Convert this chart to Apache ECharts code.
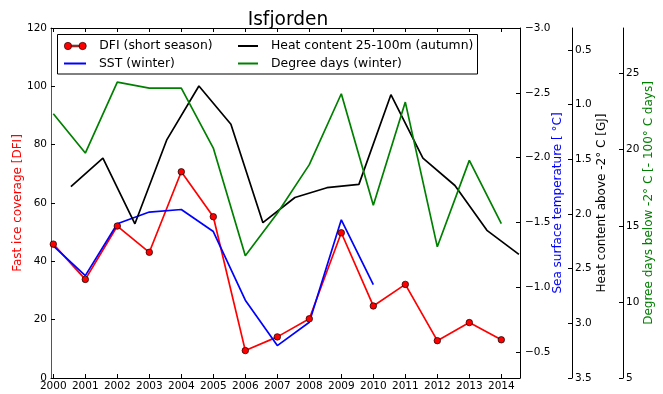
<!DOCTYPE html>
<html><head><meta charset="utf-8">
<script src="https://cdn.jsdelivr.net/npm/echarts@6/dist/echarts.min.js"></script>
<style>html,body{margin:0;padding:0;background:#fff}#c{width:663px;height:394px}</style>
</head><body><div id="c"></div>
<script>
// ---- data ----
const years = [2000,2001,2002,2003,2004,2005,2006,2007,2008,2009,2010,2011,2012,2013,2014];
const dfi = [45.9,33.8,52.1,43.1,70.7,55.3,9.4,14.1,20.3,49.8,24.7,32.1,12.8,19.0,13.1];
const sstYears = [2000,2001,2002,2003,2004,2005,2006,2007,2008,2009,2010];
const sst = [-1.32,-1.09,-1.49,-1.58,-1.60,-1.43,-0.90,-0.55,-0.73,-1.52,-1.02];
const heatYears = [2000.55,2001.55,2002.55,2003.55,2004.55,2005.55,2006.55,2007.55,2008.55,2009.55,2010.55,2011.55,2012.55,2013.55,2014.55];
const heat = [1.75,1.49,2.09,1.32,0.83,1.18,2.08,1.85,1.76,1.73,0.91,1.49,1.74,2.15,2.37];
const degYears = years;
const degree = [22.37,19.78,24.44,24.05,24.05,20.11,13.03,15.83,19.02,23.68,16.35,23.13,13.62,19.30,15.15];
const dfiTicks = [0,20,40,60,80,100,120];
const sstTicks = [-3.0,-2.5,-2.0,-1.5,-1.0,-0.5];
const heatTicks = [0.5,1.0,1.5,2.0,2.5,3.0,3.5];
const degTicks = [5,10,15,20,25];
const names = {
  dfi: 'DFI (short season)', sst: 'SST (winter)',
  heat: 'Heat content 25-100m (autumn)', deg: 'Degree days (winter)'
};

// ---- chart ----
const FONT = 'DejaVu Sans';
const tickLbl = {fontFamily: FONT, fontSize: 10.5, color: '#000'};
const blackLine = {show: true, lineStyle: {color: '#000', width: 1}};
const xMin = 1999.928, xMax = 2014.584;
const fmtMinus = v => (v < 0 ? '\u2212' : '') + Math.abs(v).toFixed(1);

function yAx(opt) {
  return Object.assign({
    type: 'value', splitLine: {show: false}, axisLine: blackLine,
    nameLocation: 'middle', nameRotate: 90, nameMoveOverlap: false,
  }, opt);
}

const legendBase = {
  orient: 'vertical', padding: 0, selectedMode: false, itemGap: 0,
  textStyle: {fontFamily: FONT, fontSize: 12.4, color: '#000', padding: [0,0,0,8]}
};

const option = {
  animation: false,
  backgroundColor: '#fff',
  title: {text: 'Isfjorden', left: 283, textAlign: 'center', top: 6,
    textStyle: {fontFamily: FONT, fontSize: 18.6, fontWeight: 'normal', color: '#000'}},
  grid: {left: 51, right: 143, top: 28, bottom: 16, containLabel: false, outerBoundsMode: 'none'},
  graphic: [{type: 'rect', z: 3, shape: {x: 57.5, y: 34.5, width: 420, height: 39.5},
    style: {fill: '#fff', stroke: '#000', lineWidth: 1}}],
  legend: [
    Object.assign({}, legendBase, {left: 64, top: 40, itemWidth: 22, itemHeight: 8,
      data: [{name: names.dfi, icon: 'path://M0.5,4a3.5,3.5 0 1,0 7,0a3.5,3.5 0 1,0 -7,0Z M14.5,4a3.5,3.5 0 1,0 7,0a3.5,3.5 0 1,0 -7,0Z M7,3.2H15V4.8H7Z',
        itemStyle: {color: '#f00', borderColor: '#000', borderWidth: 0.6}}]}),
    Object.assign({}, legendBase, {left: 64, top: 57.5, itemWidth: 22, itemHeight: 2,
      data: [{name: names.sst, icon: 'rect'}]}),
    Object.assign({}, legendBase, {left: 238, top: 40, itemWidth: 20, itemHeight: 2,
      data: [{name: names.heat, icon: 'rect'}]}),
    Object.assign({}, legendBase, {left: 238, top: 57.5, itemWidth: 20, itemHeight: 2,
      data: [{name: names.deg, icon: 'rect'}]})
  ],
  xAxis: [
    {type: 'value', min: xMin, max: xMax, position: 'bottom', splitLine: {show: false},
      axisLine: blackLine,
      axisTick: {inside: true, length: 4, customValues: years, lineStyle: {color: '#000'}},
      axisLabel: Object.assign({customValues: years, margin: 3, formatter: v => String(Math.round(v))}, tickLbl)},
    {type: 'value', min: xMin, max: xMax, position: 'top', splitLine: {show: false},
      axisLine: blackLine,
      axisTick: {inside: true, length: 4, customValues: years, lineStyle: {color: '#000'}},
      axisLabel: {show: false}}
  ],
  yAxis: [
    yAx({position: 'left', min: 0, max: 120,
      axisLine: {show: true, lineStyle: {color: '#555', width: 1}},
      axisTick: {inside: true, length: 4, customValues: dfiTicks, lineStyle: {color: '#000'}},
      axisLabel: Object.assign({customValues: dfiTicks, margin: 4}, tickLbl),
      name: 'Fast ice coverage [DFI]', nameGap: 27,
      nameTextStyle: {color: '#f00', fontFamily: FONT, fontSize: 12}}),
    yAx({position: 'right', offset: 0, min: -3.0, max: -0.3, inverse: true,
      axisTick: {inside: true, length: 4, customValues: sstTicks, lineStyle: {color: '#000'}},
      axisLabel: Object.assign({customValues: sstTicks, margin: 5, formatter: fmtMinus}, tickLbl),
      name: 'Sea surface temperature [ \u00b0C]', nameGap: 32,
      nameTextStyle: {color: '#00f', fontFamily: FONT, fontSize: 12}}),
    yAx({position: 'right', offset: 52, min: 0.3, max: 3.5, inverse: true,
      axisTick: {inside: true, length: 4, customValues: heatTicks, lineStyle: {color: '#000'}},
      axisLabel: Object.assign({customValues: heatTicks, margin: 3, formatter: v => v.toFixed(1)}, tickLbl),
      name: 'Heat content above -2\u00b0 C [GJ]', nameGap: 24,
      nameTextStyle: {color: '#000', fontFamily: FONT, fontSize: 12}}),
    yAx({position: 'right', offset: 103, min: 5, max: 28,
      axisTick: {inside: true, length: 4, customValues: degTicks, lineStyle: {color: '#000'}},
      axisLabel: Object.assign({customValues: degTicks, margin: 3}, tickLbl),
      name: 'Degree days below -2\u00b0 C [- 100\u00b0 C days]', nameGap: 20,
      nameTextStyle: {color: '#008000', fontFamily: FONT, fontSize: 12}})
  ],
  series: [
    {name: names.dfi, type: 'line', xAxisIndex: 0, yAxisIndex: 0,
      data: years.map((y, i) => [y, dfi[i]]),
      symbol: 'circle', symbolSize: 6.5, showSymbol: true,
      itemStyle: {color: '#f00', borderColor: '#000', borderWidth: 0.7},
      lineStyle: {color: '#f00', width: 1.7}},
    {name: names.sst, type: 'line', xAxisIndex: 0, yAxisIndex: 1,
      data: sstYears.map((y, i) => [y, sst[i]]), symbol: 'none',
      itemStyle: {color: '#00f'}, lineStyle: {color: '#00f', width: 1.7}},
    {name: names.heat, type: 'line', xAxisIndex: 0, yAxisIndex: 2,
      data: heatYears.map((y, i) => [y, heat[i]]), symbol: 'none', clip: true,
      itemStyle: {color: '#000'}, lineStyle: {color: '#000', width: 1.7}},
    {name: names.deg, type: 'line', xAxisIndex: 0, yAxisIndex: 3,
      data: degYears.map((y, i) => [y, degree[i]]), symbol: 'none',
      itemStyle: {color: '#008000'}, lineStyle: {color: '#008000', width: 1.7}}
  ]
};
const chart = echarts.init(document.getElementById('c'), null, {renderer: 'canvas'});
chart.setOption(option);
</script></body></html>
